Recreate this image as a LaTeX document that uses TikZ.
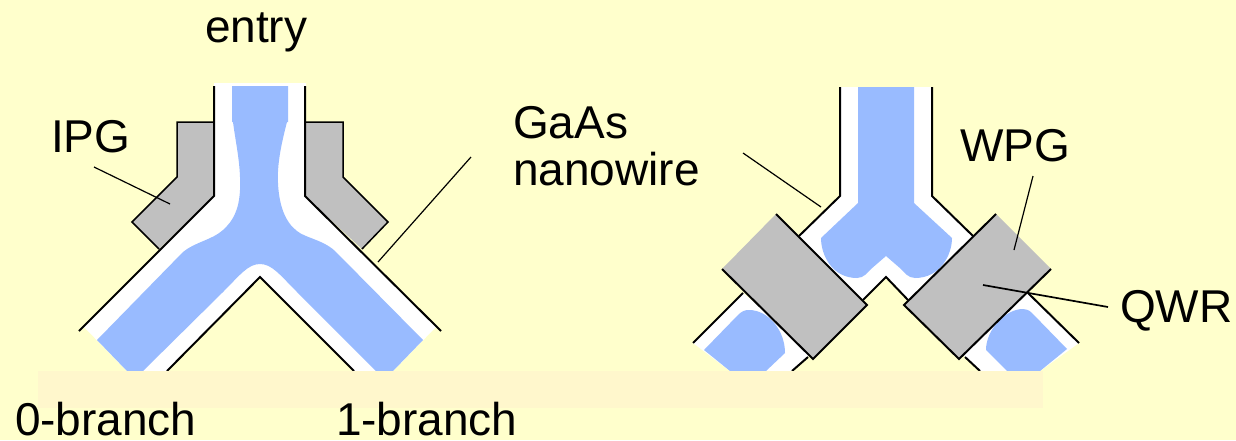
\documentclass[tikz,border=0pt]{standalone}
\usepackage{fontspec}
\setmainfont{Liberation Sans}
\definecolor{bgc}{HTML}{FFFFCC}
\definecolor{bluec}{HTML}{99BBFF}
\definecolor{grayc}{HTML}{C0C0C0}
\definecolor{bandc}{HTML}{FFF7CC}
\tikzset{
  wall/.style={draw=black,line width=2pt,line join=miter},
  leader/.style={draw=black,line width=1.2pt},
  gatefill/.style={fill=grayc,draw=none},
  lbl/.style={anchor=base west,inner sep=0pt,outer sep=0pt,font=\fontsize{46}{46}\selectfont,text=black},
}
\begin{document}
\begin{tikzpicture}[x=1pt,y=-1pt]
\useasboundingbox (0,0) rectangle (1236,440);
\fill[bgc] (0,0) rectangle (1236,440);
% ---------- left device
\fill[white] (214,83) -- (306,83) -- (306,196) -- (436,327) -- (393,371) -- (354,371) -- (260,277) -- (167,371) -- (127,371) -- (84,327) -- (214,196) -- cycle;
\fill[bluec] (232,86) -- (288,86) -- (288,122) -- (287,122)
  .. controls (281,145) and (277,165) .. (278,183)
  .. controls (279,205) and (285,222) .. (297,231)
  .. controls (305,238) and (325,240) .. (337,253)
  -- (423,340) -- (393,371) -- (376,371) -- (297,292)
  .. controls (280,275) and (272,264) .. (260,264)
  .. controls (248,264) and (240,275) .. (223,292)
  -- (143,371) -- (127,371) -- (97,340) -- (183,252)
  .. controls (195,242) and (212,240) .. (223,230)
  .. controls (233,221) and (239,210) .. (240,190)
  .. controls (241,165) and (236,145) .. (233,122)
  -- (232,122) -- cycle;
\path[gatefill] (214,122) -- (177,122) -- (177,177) -- (132,222) -- (159,249) -- (214,196) -- cycle;
\path[gatefill] (305,122) -- (343,122) -- (343,177) -- (388,222) -- (362,249) -- (305,196) -- cycle;
\draw[black,line width=1.5pt] (214,122) -- (177,122) -- (177,177) -- (132,222) -- (159,249);
\draw[black,line width=1.5pt] (305,122) -- (343,122) -- (343,177) -- (388,222) -- (362,249);
\draw[wall] (214,86) -- (214,196) -- (79,331);
\draw[wall] (305,86) -- (305,196) -- (441,331);
\draw[wall] (167,371) -- (260,277) -- (354,371);
% ---------- right device
\fill[white] (840,87) -- (932,87) -- (932,196) -- (973,236) -- (908,300) -- (886,277) -- (863,300) -- (799,236) -- (840,196) -- cycle;
\fill[white] (743,293) -- (693,343) -- (730,371) -- (792,371) -- (813,352) -- cycle;
\fill[white] (1028,293) -- (1079,343) -- (1040,371) -- (980,371) -- (960,352) -- cycle;
\fill[bluec] (858,87) -- (858,203) -- (821,238)
  .. controls (821,255) and (832,278) .. (857,278)
  .. controls (864,278) and (868,272) .. (871,269)
  -- (886,256) -- (901,269)
  .. controls (904,272) and (908,278) .. (915,278)
  .. controls (940,278) and (952,255) .. (952,238)
  -- (914,203) -- (914,87) -- cycle;
\fill[bluec] (704,350) -- (738,315) .. controls (742,311) and (745,310) .. (749,310)
  .. controls (768,310) and (785,330) .. (785,353) -- (766,371) -- (730,371) -- cycle;
\fill[bluec] (1067,349) -- (1032,313) .. controls (1029,310) and (1026,309) .. (1023,309)
  .. controls (1005,309) and (986,330) .. (986,350) -- (1007,371) -- (1040,371) -- cycle;
\draw[wall] (799,236) -- (840,196) -- (840,87);
\draw[wall] (973,236) -- (932,196) -- (932,87);
\draw[wall] (863,300) -- (886,277) -- (908,300);
\draw[wall] (743,293) -- (693,343);
\draw[wall] (808,357) -- (792,371);
\draw[wall] (1028,293) -- (1079,343);
\draw[wall] (965,357) -- (980,371);
\path[gatefill] (776,214) -- (722,269) -- (813,359) -- (867,305) -- cycle;
\path[gatefill] (996,214) -- (1051,269) -- (959,359) -- (904,305) -- cycle;
\draw[wall] (776,214) -- (867,305) -- (813,359) -- (722,269);
\draw[wall] (996,214) -- (904,305) -- (959,359) -- (1051,269);
% ---------- translucent band
\fill[bandc] (38,371) rectangle (1043,408);
% ---------- leaders
\coordinate (ipgA) at (94,167);   \coordinate (ipgB) at (170,204);
\coordinate (gaRA) at (471,157);  \coordinate (gaRB) at (378,262);
\coordinate (gaLA) at (743,153);  \coordinate (gaLB) at (821,207);
\coordinate (wpgA) at (1033,176); \coordinate (wpgB) at (1014,250);
\coordinate (qwrA) at (1108,307); \coordinate (qwrB) at (983,285);
\draw[leader] (ipgA) -- (ipgB);
\draw[leader] (gaRA) -- (gaRB);
\draw[leader] (gaLA) -- (gaLB);
\draw[leader] (wpgA) -- (wpgB);
\draw[leader,line width=1.7pt] (qwrA) -- (qwrB);
% ---------- labels
\node[lbl] (entry) at (205,42) {entry};
\node[lbl] (ipg) at (51,152) {IPG};
\node[lbl] (gaas) at (513,138) {GaAs};
\node[lbl] (nano) at (513,185) {nanowire};
\node[lbl] (wpg) at (960,161) {WPG};
\node[lbl] (qwr) at (1120,322) {QWR};
\node[lbl] (zero) at (15,435) {0-branch};
\node[lbl] (one) at (336,435) {1-branch};
\end{tikzpicture}
\end{document}
